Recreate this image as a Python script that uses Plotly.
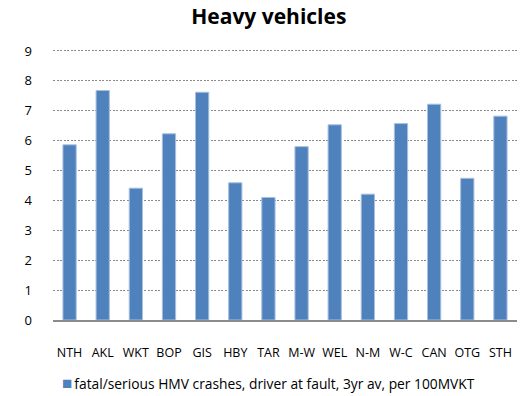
import plotly.graph_objects as go

regions = ["NTH", "AKL", "WKT", "BOP", "GIS", "HBY", "TAR",
           "M-W", "WEL", "N-M", "W-C", "CAN", "OTG", "STH"]
rates = [5.86, 7.68, 4.41, 6.23, 7.62, 4.59, 4.10,
         5.80, 6.53, 4.21, 6.57, 7.22, 4.74, 6.82]
series_name = "fatal/serious HMV crashes, driver at fault, 3yr av, per 100MVKT"
y_ticks = list(range(0, 10))

FONT = "Open Sans"
BAR_COLOR = "#4F81BD"

fig = go.Figure()
fig.add_trace(go.Bar(
    x=regions, y=rates, name=series_name,
    marker=dict(color=BAR_COLOR, line=dict(color="#A7C0DE", width=1)),
    width=0.4, showlegend=False,
))

# Legend row drawn as a small square key followed by the series name
fig.add_annotation(
    xref="paper", yref="paper", x=0.015, y=-0.23,
    xanchor="left", yanchor="middle", showarrow=False,
    text=(f"<span style='color:{BAR_COLOR}; font-size:17px'>■</span>"
          f"<span style='font-size:8px'> </span>{series_name}"),
    font=dict(family=FONT, size=13.8, color="black"),
)

fig.update_layout(
    width=525, height=396,
    margin=dict(l=53, r=8, t=48, b=76),
    paper_bgcolor="white", plot_bgcolor="white",
    title=dict(text="<b>Heavy vehicles</b>", x=0.512, xanchor="center",
               y=0.957, yanchor="middle",
               font=dict(family=FONT, size=21, color="black")),
    font=dict(family=FONT, size=12.5, color="black"),
    showlegend=False,
    bargap=0.6,
)
fig.update_xaxes(
    showgrid=False, showline=True, linecolor="#8C8C8C", linewidth=2,
    ticks="", ticklabelstandoff=20, tickfont=dict(size=12.5),
)
fig.update_yaxes(
    range=[0, 9.1], tickvals=y_ticks, showgrid=True, gridcolor="#8A8A8A",
    griddash="2px,1.5px", gridwidth=1, zeroline=False, showline=False,
    ticks="", ticklabelstandoff=20, tickfont=dict(size=13),
)

fig.write_html("out.html")
